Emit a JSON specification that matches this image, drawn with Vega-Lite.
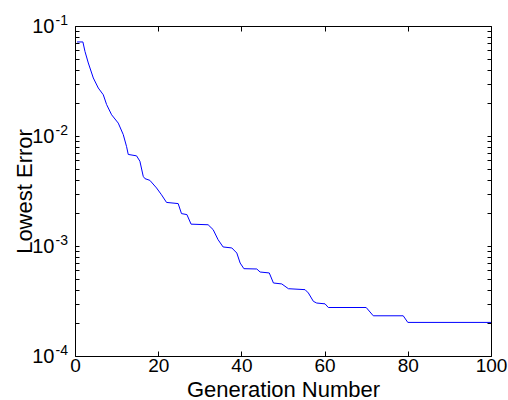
{
  "$schema": "https://vega.github.io/schema/vega-lite/v6.json",
  "width": 416,
  "height": 330,
  "autosize": {"type": "none"},
  "padding": {"left": 75, "top": 26, "right": 17, "bottom": 44},
  "background": "white",
  "config": {
    "view": {"stroke": "black", "strokeWidth": 1},
    "font": "Liberation Sans",
    "axis": {"grid": false, "domain": false, "tickColor": "black", "labelColor": "black", "titleColor": "black", "titleFontWeight": "normal", "labelFont": "Liberation Sans", "titleFont": "Liberation Sans"}
  },
  "datasets": {
    "err": [
      {"generation": 0.5, "error": 0.0716},
      {"generation": 1.9, "error": 0.0716},
      {"generation": 2.4, "error": 0.0587},
      {"generation": 3.2, "error": 0.0461},
      {"generation": 4.4, "error": 0.0337},
      {"generation": 5.6, "error": 0.0273},
      {"generation": 6.8, "error": 0.0237},
      {"generation": 7.6, "error": 0.0193},
      {"generation": 8.8, "error": 0.0156},
      {"generation": 10.4, "error": 0.0131},
      {"generation": 11.6, "error": 0.0103},
      {"generation": 12.4, "error": 0.008},
      {"generation": 12.8, "error": 0.0068},
      {"generation": 14.8, "error": 0.0066},
      {"generation": 15.6, "error": 0.0059},
      {"generation": 16.4, "error": 0.0043},
      {"generation": 16.8, "error": 0.0041},
      {"generation": 18.0, "error": 0.00395},
      {"generation": 19.6, "error": 0.00337},
      {"generation": 20.8, "error": 0.00292},
      {"generation": 22.0, "error": 0.00249},
      {"generation": 24.8, "error": 0.00243},
      {"generation": 25.6, "error": 0.00197},
      {"generation": 26.9, "error": 0.00193},
      {"generation": 27.9, "error": 0.00158},
      {"generation": 32.0, "error": 0.00156},
      {"generation": 33.2, "error": 0.00141},
      {"generation": 34.4, "error": 0.00114},
      {"generation": 35.6, "error": 0.00098},
      {"generation": 37.7, "error": 0.00096},
      {"generation": 38.9, "error": 0.000863},
      {"generation": 39.7, "error": 0.0007},
      {"generation": 40.6, "error": 0.000622},
      {"generation": 43.7, "error": 0.000618},
      {"generation": 44.5, "error": 0.00058},
      {"generation": 46.7, "error": 0.000569},
      {"generation": 47.7, "error": 0.000461},
      {"generation": 49.7, "error": 0.000452},
      {"generation": 51.3, "error": 0.000409},
      {"generation": 55.3, "error": 0.000401},
      {"generation": 56.1, "error": 0.000374},
      {"generation": 57.3, "error": 0.000314},
      {"generation": 58.1, "error": 0.000303},
      {"generation": 60.1, "error": 0.000298},
      {"generation": 60.9, "error": 0.000276},
      {"generation": 70.0, "error": 0.000276},
      {"generation": 71.7, "error": 0.000232},
      {"generation": 78.9, "error": 0.000232},
      {"generation": 80.0, "error": 0.000202},
      {"generation": 100, "error": 0.000202}
    ],
    "decades": [
      {"value": 0.1, "base": "10", "exponent": "-1"},
      {"value": 0.01, "base": "10", "exponent": "-2"},
      {"value": 0.001, "base": "10", "exponent": "-3"},
      {"value": 0.0001, "base": "10", "exponent": "-4"}
    ]
  },
  "layer": [
    {
      "data": {"name": "err"},
      "mark": {"type": "line", "color": "#0000ff", "strokeWidth": 1, "clip": true},
      "encoding": {
        "x": {
          "field": "generation", "type": "quantitative",
          "scale": {"domain": [0, 100], "nice": false, "zero": false},
          "axis": {"orient": "bottom", "values": [0, 20, 40, 60, 80, 100], "tickSize": -5, "labelFontSize": 19, "labelPadding": 5, "labelFlush": false, "labelOverlap": false,
                   "title": "Generation Number", "titleFontSize": 22, "titleBaseline": "alphabetic", "titleY": 40}
        },
        "y": {
          "field": "error", "type": "quantitative",
          "scale": {"type": "log", "domain": [0.0001, 0.1], "nice": false},
          "axis": {"orient": "left", "values": [0.0001, 0.0002, 0.0003, 0.0004, 0.0005, 0.0006, 0.0007, 0.0008, 0.0009, 0.001, 0.002, 0.003, 0.004, 0.005, 0.006, 0.007, 0.008, 0.009, 0.01, 0.02, 0.03, 0.04, 0.05, 0.06, 0.07, 0.08, 0.09, 0.1],
                   "tickSize": -4, "labels": false,
                   "title": "Lowest Error", "titleFontSize": 22, "titleBaseline": "alphabetic", "titleAngle": -90, "titleX": -44, "titleY": 165, "titleAlign": "center"}
        }
      }
    },
    {
      "data": {"name": "decades"},
      "mark": {"type": "text", "align": "right", "baseline": "alphabetic", "dx": -20.5, "dy": 7, "fontSize": 20, "color": "black", "font": "Liberation Sans"},
      "encoding": {
        "x": {"datum": 0, "type": "quantitative",
              "axis": {"orient": "top", "values": [0, 20, 40, 60, 80, 100], "tickSize": -5, "labels": false, "title": null}},
        "y": {"field": "value", "type": "quantitative",
              "axis": {"orient": "right", "values": [0.0001, 0.0002, 0.0003, 0.0004, 0.0005, 0.0006, 0.0007, 0.0008, 0.0009, 0.001, 0.002, 0.003, 0.004, 0.005, 0.006, 0.007, 0.008, 0.009, 0.01, 0.02, 0.03, 0.04, 0.05, 0.06, 0.07, 0.08, 0.09, 0.1],
                       "tickSize": -4, "labels": false, "title": null}},
        "text": {"field": "base"}
      }
    },
    {
      "data": {"name": "decades"},
      "mark": {"type": "text", "align": "left", "baseline": "alphabetic", "dx": -19.5, "dy": -1.5, "fontSize": 14, "color": "black", "font": "Liberation Sans"},
      "encoding": {
        "x": {"datum": 0, "type": "quantitative", "axis": null},
        "y": {"field": "value", "type": "quantitative", "axis": null},
        "text": {"field": "exponent"}
      }
    }
  ]
}
